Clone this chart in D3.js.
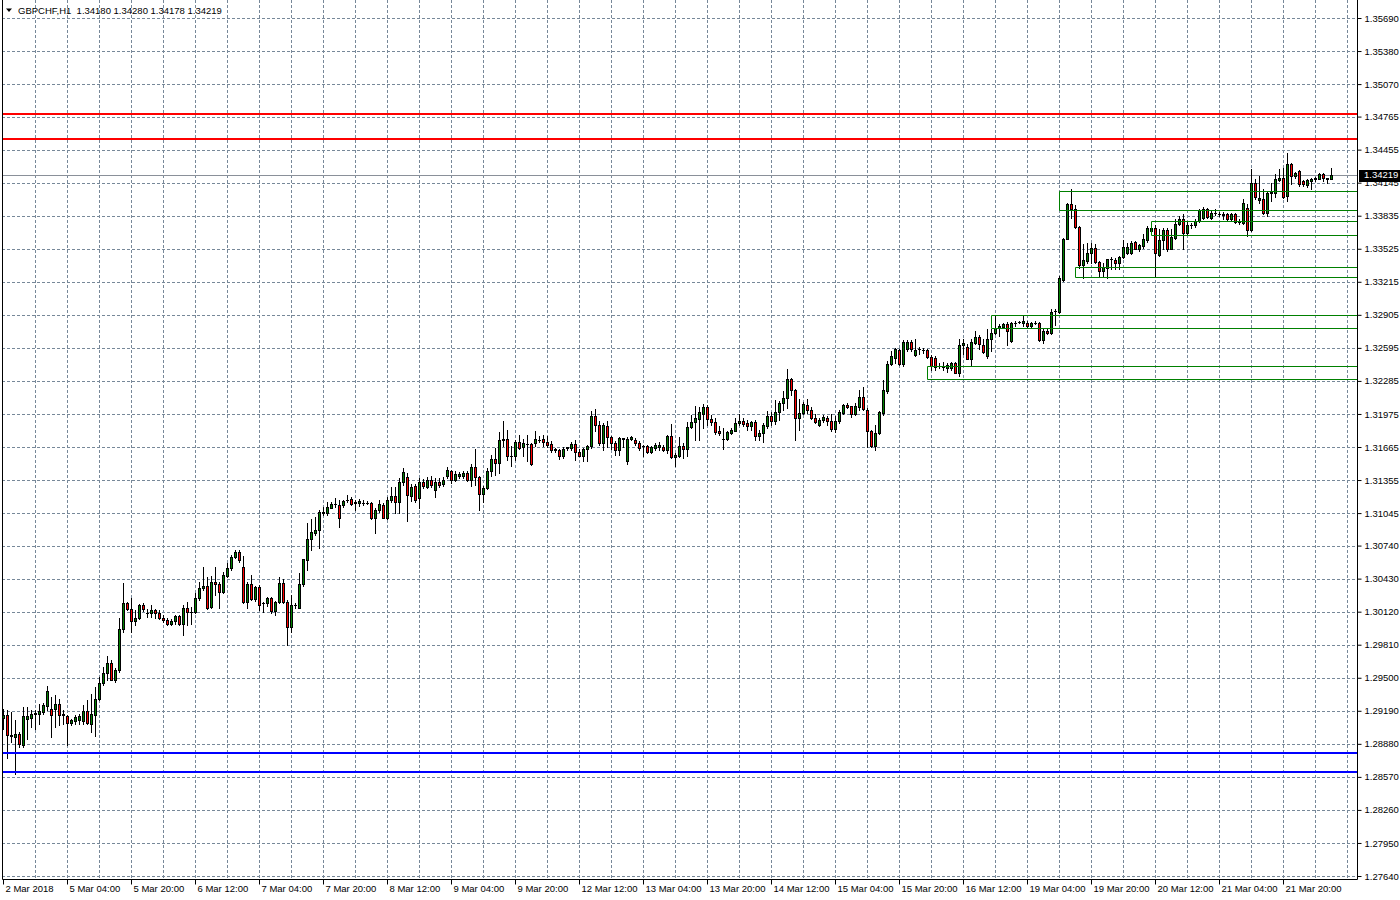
<!DOCTYPE html>
<html><head><meta charset="utf-8">
<script src="https://cdn.jsdelivr.net/npm/d3@7"></script>
<style>
html,body{margin:0;padding:0;background:#fff;}
svg{display:block;}
text{font-family:"Liberation Sans",Arial,sans-serif;font-size:9.5px;fill:#000;}
</style></head><body>
<svg id="c" width="1400" height="900"></svg>
<script>
const symbol = "GBPCHF,H1";
const openP = [1.29126,1.29148,1.28961,1.28945,1.28976,1.28867,1.29117,1.29126,1.29164,1.29164,1.29180,1.29233,1.29211,1.29211,1.29258,1.29158,1.29139,1.29076,1.29095,1.29108,
1.29095,1.29186,1.29070,1.29155,1.29299,1.29455,1.29540,1.29634,1.29477,1.29571,1.29962,1.30197,1.30141,1.30034,1.30065,1.30178,1.30103,1.30103,1.30131,1.30103,
1.30065,1.30040,1.30009,1.30031,1.30078,1.30000,1.30159,1.30116,1.30116,1.30244,1.30338,1.30360,1.30166,1.30394,1.30375,1.30306,1.30457,1.30526,1.30629,1.30682,
1.30535,1.30213,1.30378,1.30238,1.30347,1.30197,1.30197,1.30244,1.30128,1.30209,1.30385,1.30213,1.29972,1.30181,1.30159,1.30375,1.30604,1.30798,1.30860,1.30886,
1.31042,1.31042,1.31095,1.31130,1.31120,1.31120,1.31167,1.31173,1.31152,1.31136,1.31142,1.31142,1.31142,1.31001,1.31073,1.31120,1.31001,1.31167,1.31205,1.31148,
1.31336,1.31386,1.31205,1.31299,1.31183,1.31339,1.31292,1.31355,1.31261,1.31339,1.31317,1.31390,1.31443,1.31358,1.31390,1.31390,1.31421,1.31358,1.31477,1.31383,
1.31224,1.31280,1.31443,1.31555,1.31515,1.31734,1.31740,1.31577,1.31577,1.31715,1.31662,1.31693,1.31693,1.31703,1.31728,1.31740,1.31712,1.31693,1.31640,1.31634,
1.31577,1.31659,1.31656,1.31693,1.31615,1.31584,1.31646,1.31671,1.31959,1.31868,1.31703,1.31865,1.31759,1.31703,1.31634,1.31743,1.31530,1.31740,1.31734,1.31703,
1.31671,1.31678,1.31615,1.31656,1.31665,1.31662,1.31640,1.31771,1.31568,1.31584,1.31678,1.31646,1.31853,1.31903,1.31928,1.31978,1.32041,1.31928,1.31903,1.31812,
1.31740,1.31740,1.31796,1.31818,1.31890,1.31912,1.31890,1.31865,1.31897,1.31765,1.31796,1.31865,1.31953,1.31906,1.31991,1.32078,1.32125,1.32304,1.32203,1.31937,
1.31984,1.32062,1.32016,1.31937,1.31875,1.31915,1.31937,1.31912,1.31837,1.31906,1.31984,1.32062,1.32047,1.31975,1.32041,1.32134,1.32016,1.31818,1.31671,1.31796,
1.31984,1.32188,1.32447,1.32502,1.32571,1.32445,1.32580,1.32649,1.32524,1.32580,1.32571,1.32571,1.32511,1.32502,1.32424,1.32417,1.32408,1.32408,1.32449,1.32361,
1.32624,1.32605,1.32492,1.32643,1.32699,1.32618,1.32517,1.32674,1.32730,1.32777,1.32793,1.32818,1.32658,1.32830,1.32837,1.32824,1.32830,1.32799,1.32830,1.32830,
1.32668,1.32758,1.32737,1.32940,1.32934,1.33231,1.33619,1.33942,1.33895,1.33732,1.33369,1.33410,1.33488,1.33528,1.33400,1.33316,1.33347,1.33425,1.33416,1.33394,
1.33450,1.33481,1.33481,1.33591,1.33525,1.33550,1.33607,1.33691,1.33716,1.33466,1.33607,1.33697,1.33525,1.33629,1.33754,1.33801,1.33676,1.33744,1.33744,1.33785,
1.33816,1.33901,1.33816,1.33857,1.33848,1.33848,1.33848,1.33801,1.33848,1.33776,1.33769,1.33910,1.33697,1.34139,1.33982,1.33988,1.33857,1.34045,1.34051,1.34170,
1.34192,1.34020,1.34317,1.34208,1.34255,1.34161,1.34120,1.34161,1.34183,1.34183,1.34223,1.34183,1.34180];
const highP = [1.29211,1.29202,1.29180,1.29101,1.28992,1.29227,1.29227,1.29195,1.29195,1.29258,1.29264,1.29421,1.29321,1.29336,1.29305,1.29195,1.29148,1.29117,1.29148,1.29164,
1.29242,1.29289,1.29352,1.29414,1.29508,1.29602,1.29702,1.29665,1.29587,1.30056,1.30385,1.30213,1.30244,1.30134,1.30191,1.30197,1.30141,1.30181,1.30141,1.30134,
1.30087,1.30056,1.30047,1.30087,1.30087,1.30181,1.30213,1.30166,1.30297,1.30400,1.30535,1.30447,1.30454,1.30535,1.30400,1.30494,1.30573,1.30651,1.30698,1.30698,
1.30641,1.30400,1.30463,1.30360,1.30369,1.30213,1.30253,1.30260,1.30222,1.30441,1.30422,1.30228,1.30281,1.30197,1.30479,1.30616,1.30954,1.30986,1.31011,1.31073,
1.31105,1.31152,1.31152,1.31183,1.31167,1.31167,1.31214,1.31198,1.31167,1.31173,1.31167,1.31161,1.31152,1.31089,1.31167,1.31136,1.31198,1.31292,1.31292,1.31374,
1.31465,1.31418,1.31317,1.31317,1.31371,1.31364,1.31386,1.31393,1.31371,1.31371,1.31386,1.31477,1.31452,1.31436,1.31427,1.31436,1.31436,1.31508,1.31646,1.31390,
1.31296,1.31468,1.31593,1.31656,1.31803,1.31912,1.31821,1.31671,1.31734,1.31781,1.31740,1.31781,1.31703,1.31812,1.31771,1.31781,1.31765,1.31718,1.31656,1.31646,
1.31665,1.31665,1.31709,1.31734,1.31646,1.31656,1.31687,1.32006,1.32022,1.31906,1.31890,1.31912,1.31771,1.31718,1.31759,1.31753,1.31756,1.31771,1.31746,1.31718,
1.31687,1.31687,1.31678,1.31703,1.31709,1.31687,1.31781,1.31884,1.31609,1.31759,1.31703,1.31897,1.31969,1.32053,1.32041,1.32072,1.32062,1.31969,1.31937,1.31865,
1.31843,1.31818,1.31843,1.31937,1.31978,1.31937,1.31915,1.31912,1.31915,1.31828,1.31890,1.32006,1.31991,1.32103,1.32094,1.32188,1.32397,1.32313,1.32206,1.32116,
1.32084,1.32116,1.32037,1.31978,1.31937,1.31969,1.31959,1.31978,1.31953,1.32009,1.32072,1.32078,1.32053,1.32078,1.32203,1.32228,1.32031,1.31828,1.31875,1.32000,
1.32297,1.32469,1.32563,1.32596,1.32586,1.32668,1.32668,1.32668,1.32680,1.32605,1.32596,1.32580,1.32524,1.32517,1.32455,1.32461,1.32455,1.32461,1.32461,1.32680,
1.32674,1.32627,1.32680,1.32749,1.32715,1.32674,1.32768,1.32768,1.32893,1.32815,1.32830,1.32837,1.32837,1.32846,1.32846,1.32893,1.32846,1.32840,1.32846,1.32837,
1.32783,1.32774,1.32956,1.32962,1.33269,1.33629,1.33951,1.34089,1.33932,1.33738,1.33566,1.33575,1.33575,1.33566,1.33410,1.33388,1.33431,1.33450,1.33441,1.33456,
1.33607,1.33575,1.33594,1.33600,1.33566,1.33660,1.33738,1.33754,1.33744,1.33707,1.33722,1.33722,1.33707,1.33801,1.33832,1.33848,1.33785,1.33763,1.33801,1.33901,
1.33920,1.33910,1.33879,1.33901,1.33870,1.33870,1.33863,1.33857,1.33863,1.33801,1.33988,1.33942,1.34270,1.34176,1.34208,1.34082,1.34067,1.34145,1.34223,1.34270,
1.34286,1.34427,1.34333,1.34245,1.34264,1.34170,1.34183,1.34192,1.34201,1.34233,1.34233,1.34192,1.34280];
const lowP = [1.29023,1.28751,1.28898,1.28601,1.28851,1.28851,1.28929,1.29039,1.29023,1.29070,1.29164,1.29195,1.28945,1.29039,1.29054,1.29070,1.28867,1.29054,1.29070,1.29070,
1.29070,1.29064,1.28992,1.28951,1.29289,1.29430,1.29477,1.29477,1.29461,1.29555,1.29931,1.30134,1.29931,1.29993,1.30047,1.30128,1.30072,1.30072,1.30056,1.30047,
1.30025,1.29993,1.29993,1.30009,1.29993,1.29900,1.29993,1.30003,1.30103,1.30228,1.30322,1.30141,1.30150,1.30275,1.30156,1.30291,1.30447,1.30510,1.30619,1.30588,
1.30197,1.30150,1.30228,1.30222,1.30134,1.30119,1.30172,1.30109,1.30087,1.30197,1.30197,1.29806,1.29931,1.30159,1.30150,1.30360,1.30510,1.30698,1.30839,1.30713,
1.31026,1.31026,1.31089,1.31105,1.30917,1.31105,1.31152,1.31120,1.31073,1.31111,1.31120,1.31130,1.30986,1.30854,1.31058,1.30995,1.30986,1.31152,1.31042,1.31045,
1.31308,1.30970,1.31161,1.31152,1.31089,1.31280,1.31277,1.31292,1.31198,1.31292,1.31299,1.31371,1.31327,1.31343,1.31374,1.31374,1.31343,1.31302,1.31311,1.31070,
1.31145,1.31271,1.31390,1.31405,1.31421,1.31671,1.31546,1.31483,1.31546,1.31646,1.31577,1.31530,1.31500,1.31671,1.31709,1.31678,1.31665,1.31615,1.31615,1.31552,
1.31562,1.31640,1.31640,1.31540,1.31577,1.31530,1.31530,1.31656,1.31812,1.31687,1.31634,1.31665,1.31646,1.31593,1.31593,1.31665,1.31508,1.31728,1.31687,1.31634,
1.31577,1.31609,1.31609,1.31640,1.31640,1.31624,1.31609,1.31565,1.31483,1.31571,1.31562,1.31577,1.31843,1.31734,1.31728,1.31843,1.31875,1.31875,1.31790,1.31781,
1.31646,1.31734,1.31790,1.31812,1.31875,1.31865,1.31821,1.31821,1.31734,1.31728,1.31709,1.31843,1.31875,1.31884,1.31915,1.32016,1.32031,1.32156,1.31728,1.31821,
1.31978,1.31984,1.31928,1.31890,1.31859,1.31897,1.31875,1.31812,1.31803,1.31890,1.31978,1.32031,1.31947,1.31969,1.32016,1.32016,1.31665,1.31665,1.31640,1.31790,
1.31969,1.32172,1.32438,1.32455,1.32430,1.32424,1.32564,1.32564,1.32517,1.32542,1.32549,1.32502,1.32392,1.32392,1.32408,1.32386,1.32367,1.32386,1.32355,1.32330,
1.32533,1.32486,1.32439,1.32630,1.32586,1.32549,1.32502,1.32564,1.32721,1.32705,1.32783,1.32618,1.32649,1.32799,1.32830,1.32799,1.32793,1.32793,1.32815,1.32658,
1.32643,1.32721,1.32727,1.32805,1.32924,1.33222,1.33613,1.33816,1.33722,1.33347,1.33253,1.33394,1.33394,1.33388,1.33269,1.33262,1.33253,1.33331,1.33331,1.33337,
1.33441,1.33472,1.33472,1.33519,1.33503,1.33535,1.33588,1.33676,1.33269,1.33456,1.33519,1.33503,1.33519,1.33613,1.33744,1.33525,1.33651,1.33722,1.33732,1.33776,
1.33807,1.33816,1.33801,1.33838,1.33832,1.33801,1.33794,1.33794,1.33763,1.33754,1.33754,1.33644,1.33691,1.33988,1.33957,1.33848,1.33832,1.33973,1.34014,1.34161,
1.34004,1.33973,1.34129,1.34192,1.34114,1.34114,1.34107,1.34082,1.34161,1.34176,1.34161,1.34145,1.34178];
const closeP = [1.29148,1.28961,1.28951,1.28976,1.28882,1.29139,1.29139,1.29164,1.29166,1.29186,1.29242,1.29374,1.29155,1.29252,1.29155,1.29148,1.29076,1.29108,1.29133,1.29139,
1.29186,1.29076,1.29164,1.29305,1.29455,1.29546,1.29634,1.29483,1.29571,1.29962,1.30197,1.30141,1.30034,1.30065,1.30178,1.30141,1.30105,1.30131,1.30103,1.30065,
1.30040,1.30009,1.30031,1.30078,1.30000,1.30159,1.30116,1.30118,1.30244,1.30338,1.30360,1.30159,1.30394,1.30375,1.30306,1.30463,1.30526,1.30629,1.30682,1.30604,
1.30213,1.30378,1.30238,1.30347,1.30181,1.30199,1.30244,1.30128,1.30209,1.30385,1.30209,1.29972,1.30181,1.30183,1.30375,1.30610,1.30798,1.30870,1.30886,1.31058,
1.31051,1.31098,1.31130,1.31132,1.30995,1.31158,1.31169,1.31130,1.31136,1.31158,1.31144,1.31140,1.31001,1.31073,1.31127,1.31001,1.31167,1.31205,1.31152,1.31336,
1.31433,1.31214,1.31292,1.31167,1.31339,1.31299,1.31355,1.31308,1.31339,1.31308,1.31355,1.31452,1.31358,1.31411,1.31411,1.31421,1.31358,1.31477,1.31383,1.31224,
1.31280,1.31443,1.31555,1.31515,1.31728,1.31736,1.31577,1.31579,1.31715,1.31656,1.31703,1.31695,1.31505,1.31740,1.31730,1.31712,1.31687,1.31634,1.31642,1.31577,
1.31646,1.31661,1.31693,1.31615,1.31584,1.31646,1.31678,1.31959,1.31868,1.31703,1.31868,1.31759,1.31703,1.31634,1.31749,1.31745,1.31743,1.31756,1.31703,1.31656,
1.31673,1.31615,1.31665,1.31687,1.31687,1.31640,1.31771,1.31568,1.31590,1.31678,1.31646,1.31853,1.31903,1.31934,1.31991,1.32041,1.31928,1.31897,1.31806,1.31796,
1.31742,1.31806,1.31828,1.31890,1.31912,1.31884,1.31865,1.31897,1.31765,1.31796,1.31872,1.31953,1.31906,1.31991,1.32078,1.32125,1.32304,1.32203,1.31937,1.31984,
1.32072,1.32009,1.31937,1.31897,1.31922,1.31944,1.31906,1.31834,1.31912,1.31991,1.32062,1.32041,1.31975,1.32047,1.32134,1.32022,1.31812,1.31671,1.31796,1.31991,
1.32203,1.32447,1.32516,1.32580,1.32445,1.32649,1.32649,1.32580,1.32571,1.32582,1.32573,1.32511,1.32424,1.32417,1.32426,1.32419,1.32430,1.32449,1.32361,1.32624,
1.32643,1.32492,1.32649,1.32699,1.32627,1.32558,1.32674,1.32730,1.32783,1.32799,1.32818,1.32752,1.32830,1.32832,1.32839,1.32846,1.32799,1.32830,1.32832,1.32668,
1.32758,1.32737,1.32934,1.32942,1.33253,1.33619,1.33942,1.33901,1.33732,1.33369,1.33416,1.33488,1.33528,1.33400,1.33316,1.33356,1.33425,1.33427,1.33394,1.33450,
1.33544,1.33544,1.33582,1.33525,1.33557,1.33613,1.33716,1.33716,1.33488,1.33607,1.33697,1.33525,1.33638,1.33754,1.33801,1.33676,1.33744,1.33746,1.33785,1.33888,
1.33901,1.33826,1.33857,1.33859,1.33850,1.33845,1.33801,1.33848,1.33776,1.33778,1.33951,1.33700,1.34139,1.34014,1.34004,1.33863,1.34051,1.34057,1.34176,1.34192,
1.34014,1.34317,1.34208,1.34233,1.34136,1.34136,1.34167,1.34183,1.34185,1.34223,1.34192,1.34185,1.34219];

const yTicks = [1.35690,1.35380,1.35070,1.34765,1.34455,1.34145,1.33835,1.33525,1.33215,1.32905,1.32595,1.32285,1.31975,1.31665,1.31355,1.31045,1.30740,1.30430,1.30120,1.29810,1.29500,1.29190,1.28880,1.28570,1.28260,1.27950,1.27640];
const xLabels = ["2 Mar 2018","5 Mar 04:00","5 Mar 20:00","6 Mar 12:00","7 Mar 04:00","7 Mar 20:00","8 Mar 12:00","9 Mar 04:00","9 Mar 20:00","12 Mar 12:00","13 Mar 04:00","13 Mar 20:00","14 Mar 12:00","15 Mar 04:00","15 Mar 20:00","16 Mar 12:00","19 Mar 04:00","19 Mar 20:00","20 Mar 12:00","21 Mar 04:00","21 Mar 20:00"];
const xLabelIdx = [0,16,32,48,64,80,96,112,128,144,160,176,192,208,224,240,256,272,288,304,320];
const redLevels = [1.34789, 1.34558];
const blueLevels = [1.28797, 1.28618];
const zoneStart = [264, 287, 268, 247, 231];
const zoneTop = [1.34070, 1.33788, 1.33356, 1.32899, 1.32427];
const zoneBottom = [1.33891, 1.33657, 1.33256, 1.32783, 1.32301];
const bidPrice = 1.34219;

const L = 2, R = 1357, B = 879;
const svg = d3.select("#c");
const x = d3.scaleLinear().domain([0, 338.5]).range([3, R]);
const y = d3.scaleLinear().domain([1.27640, 1.35690]).range([876, 18]);
const px = v => Math.round(v);

const bars = openP.map((o, i) => ({i, o, h: highP[i], l: lowP[i], c: closeP[i]}));

// grid
const grid = svg.append("g").attr("stroke", "#778899").attr("stroke-width", 1).attr("stroke-dasharray", "3,2");
grid.selectAll("line.h").data(yTicks).join("line").attr("class","h")
  .attr("x1", L).attr("x2", R).attr("y1", d => px(y(d)) + 0.5).attr("y2", d => px(y(d)) + 0.5);
grid.selectAll("line.v").data(d3.range(8, 339, 8)).join("line").attr("class","v")
  .attr("y1", 0).attr("y2", B).attr("x1", d => px(x(d)) + 0.5).attr("x2", d => px(x(d)) + 0.5);

// bid line
svg.append("line").attr("x1", L).attr("x2", R)
  .attr("y1", px(y(bidPrice)) + 0.5).attr("y2", px(y(bidPrice)) + 0.5)
  .attr("stroke", "#8a9099").attr("stroke-width", 1);

// candles
const cg = svg.append("g");
const cand = cg.selectAll("g").data(bars).join("g");
cand.append("line")
  .attr("x1", d => px(x(d.i)) + 0.5).attr("x2", d => px(x(d.i)) + 0.5)
  .attr("y1", d => px(y(d.h))).attr("y2", d => px(y(d.l)) + 1)
  .attr("stroke", "#000").attr("stroke-width", 1);
cand.each(function(d) {
  const g = d3.select(this);
  const cx = px(x(d.i));
  const top = px(y(Math.max(d.o, d.c)));
  const bot = px(y(Math.min(d.o, d.c)));
  if (bot - top < 1) {
    g.append("line").attr("x1", cx - 1).attr("x2", cx + 2)
      .attr("y1", top + 0.5).attr("y2", top + 0.5)
      .attr("stroke", "#000").attr("stroke-width", 1);
  } else {
    g.append("rect").attr("x", cx - 0.5).attr("y", top + 0.5)
      .attr("width", 2).attr("height", bot - top)
      .attr("fill", d.c >= d.o ? "#008000" : "#ff0000")
      .attr("stroke", "#000").attr("stroke-width", 1);
  }
});

// zones
const zg = svg.append("g").attr("fill", "none").attr("stroke", "#008000").attr("stroke-width", 1);
zoneStart.forEach((s, k) => {
  const x0 = px(x(s)) + 0.5;
  const yt = px(y(zoneTop[k])) + 0.5;
  const yb = px(y(zoneBottom[k])) + 0.5;
  zg.append("path").attr("d", `M${R},${yt}H${x0}V${yb}H${R}`);
});

// levels
svg.append("g").selectAll("line").data(redLevels).join("line")
  .attr("x1", L).attr("x2", R).attr("y1", d => px(y(d))).attr("y2", d => px(y(d)))
  .attr("stroke", "#ff0000").attr("stroke-width", 2);
svg.append("g").selectAll("line").data(blueLevels).join("line")
  .attr("x1", L).attr("x2", R).attr("y1", d => px(y(d))).attr("y2", d => px(y(d)))
  .attr("stroke", "#0000ff").attr("stroke-width", 2);

// frame
svg.append("path").attr("d", `M${L+0.5},0V${B+0.5}H${R+0.5}V0`)
  .attr("fill", "none").attr("stroke", "#000").attr("stroke-width", 1);

// y axis
const yAxis = d3.axisRight(y).tickValues(yTicks).tickSize(4).tickPadding(3).tickFormat(d3.format(".5f"));
const ya = svg.append("g").attr("transform", `translate(${R + 0.5},0)`).call(yAxis);
ya.select(".domain").remove();
ya.selectAll("line").attr("stroke", "#000");
ya.selectAll("text").attr("font-family", null).attr("font-size", null).attr("fill", "#000");

// x axis
const xAxis = d3.axisBottom(x).tickValues(xLabelIdx).tickSize(5).tickFormat((d, i) => xLabels[i]);
const xa = svg.append("g").attr("transform", `translate(0,${B + 0.5})`).call(xAxis);
xa.select(".domain").remove();
xa.selectAll("line").attr("stroke", "#000");
xa.selectAll("text").attr("font-family", null).attr("font-size", null).attr("fill", "#000")
  .attr("text-anchor", "start").attr("x", 2).attr("y", 12.5).attr("dy", null);

// bid label
const by = y(bidPrice);
svg.append("rect").attr("x", 1359).attr("y", px(by) - 5).attr("width", 41).attr("height", 12).attr("fill", "#000");
svg.append("text").attr("x", 1364).attr("y", by).attr("dy", "0.35em").style("fill", "#fff").text(d3.format(".5f")(bidPrice));

// title
const last = bars[bars.length - 1];
svg.append("path").attr("d", "M6,8.5L12,8.5L9,12Z").attr("fill", "#000");
svg.append("text").attr("x", 18).attr("y", 14).style("white-space", "pre")
  .text(`${symbol}  ${[last.o, last.h, last.l, last.c].map(d3.format(".5f")).join(" ")}`);
</script>
</body></html>
